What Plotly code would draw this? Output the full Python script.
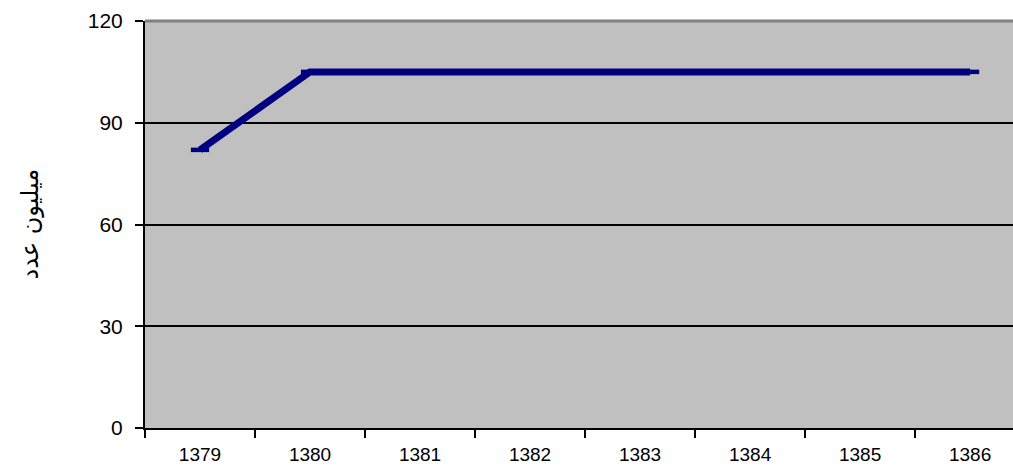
import plotly.graph_objects as go

years = ["1379", "1380", "1381", "1382", "1383", "1384", "1385", "1386"]
values = [82, 105, 105, 105, 105, 105, 105, 105]
y_title = "میلیون عدد"
y_ticks = [0, 30, 60, 90, 120]

navy = "#000080"
font_family = "Liberation Sans, Arial, DejaVu Sans, sans-serif"

fig = go.Figure()
fig.add_trace(go.Scatter(
    x=years, y=values,
    mode="lines+markers",
    line=dict(color=navy, width=7),
    marker=dict(symbol="line-ew", size=13, color=navy,
                line=dict(color=navy, width=4.5)),
    showlegend=False,
    cliponaxis=False,
))

fig.update_layout(
    width=1013, height=470,
    autosize=False,
    margin=dict(l=145, r=0, t=21, b=42),
    paper_bgcolor="white",
    plot_bgcolor="#C0C0C0",
    font=dict(family=font_family, size=20, color="black"),
    xaxis=dict(
        type="category",
        range=[-0.5, 7.39],
        tickson="boundaries",
        ticks="outside", ticklen=8, tickwidth=2, tickcolor="black",
        showline=True, linecolor="black", linewidth=2,
        showgrid=False, zeroline=False,
        tickfont=dict(size=19),
        ticklabelstandoff=8,
    ),
    yaxis=dict(
        range=[0, 120],
        tickvals=y_ticks,
        ticks="outside", ticklen=8, tickwidth=2, tickcolor="black",
        showline=True, linecolor="black", linewidth=2,
        showgrid=True, gridcolor="black", gridwidth=2,
        zeroline=False,
        tickfont=dict(size=21),
        ticklabelstandoff=8,
    ),
    annotations=[dict(
        text=y_title, textangle=-90,
        xref="paper", yref="paper", x=-0.1336, y=0.5,
        xanchor="center", yanchor="middle",
        showarrow=False, font=dict(size=24, family="DejaVu Sans, sans-serif"),
    )],
    shapes=[dict(
        type="line", xref="paper", yref="paper",
        x0=0, x1=1, y0=1, y1=1,
        line=dict(color="#808080", width=3), layer="above",
    )],
)

fig.write_html(
    "out.html",
    config={"responsive": False, "displayModeBar": False},
    post_script="document.body.style.margin='0px';document.body.style.overflow='hidden';",
)
